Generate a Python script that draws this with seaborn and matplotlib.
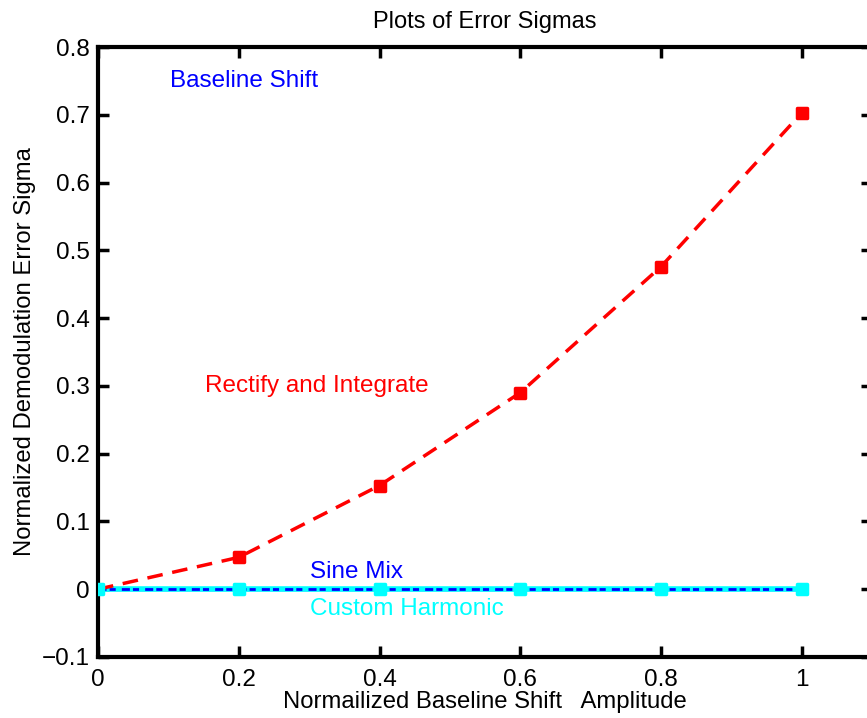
import pandas as pd
import matplotlib
matplotlib.use('Agg')
import matplotlib.pyplot as plt
import seaborn as sns

# values
amplitude = [0.0, 0.2, 0.4, 0.6, 0.8, 1.0]
rectify_sigma = [0.0, 0.047, 0.153, 0.290, 0.476, 0.703]
baseline_sigma = [0.0, 0.0, 0.0, 0.0, 0.0, 0.0]
sine_mix_sigma = [0.0, 0.0, 0.0, 0.0, 0.0, 0.0]
harmonic_sigma = [0.0, 0.0, 0.0, 0.0, 0.0, 0.0]

x_ticks = [0, 0.2, 0.4, 0.6, 0.8, 1]
x_tick_labels = ['0', '0.2', '0.4', '0.6', '0.8', '1']
y_ticks = [-0.1, 0, 0.1, 0.2, 0.3, 0.4, 0.5, 0.6, 0.7, 0.8]
y_tick_labels = ['\u22120.1', '0', '0.1', '0.2', '0.3', '0.4', '0.5', '0.6', '0.7', '0.8']

df = pd.DataFrame({
    'amp': amplitude,
    'rectify': rectify_sigma,
    'baseline': baseline_sigma,
    'sine': sine_mix_sigma,
    'harmonic': harmonic_sigma,
})

sns.set_style('white')
plt.rcParams['font.family'] = ['Liberation Sans', 'DejaVu Sans']
plt.rcParams['text.color'] = 'black'
plt.rcParams['axes.labelcolor'] = 'black'

fig = plt.figure(figsize=(8.67, 7.18), dpi=100)
ax = fig.add_axes([0.113, 0.085, 0.893, 0.8495])

# series sitting on zero
sns.lineplot(data=df, x='amp', y='baseline', ax=ax, color='blue', linewidth=2.5, zorder=1)
sns.lineplot(data=df, x='amp', y='harmonic', ax=ax, color='cyan', linewidth=4, zorder=3)
sns.lineplot(data=df, x='amp', y='sine', ax=ax, color='blue', linewidth=2,
             linestyle=(0, (2.9, 1.1, 2.2, 2.2)), zorder=4)
for mk in ['s', 'x']:
    sns.scatterplot(data=df, x='amp', y='harmonic', ax=ax, color='cyan', marker=mk, s=60,
                    linewidth=2.5, edgecolor='cyan', zorder=5)

# rectify and integrate
sns.lineplot(data=df, x='amp', y='rectify', ax=ax, color='red', linewidth=2.5,
             linestyle=(0, (4.5, 2.8)), zorder=4)
for mk in ['s', 'x']:
    sns.scatterplot(data=df.iloc[1:], x='amp', y='rectify', ax=ax, color='red', marker=mk, s=45,
                    linewidth=2.5, edgecolor='red', zorder=6)

ax.text(0.102, 0.75, 'Baseline Shift', color='blue', fontsize=17.5, va='center')
ax.text(0.152, 0.30, 'Rectify and Integrate', color='red', fontsize=17.5, va='center')
ax.text(0.301, 0.025, 'Sine Mix', color='blue', fontsize=17.5, va='center')
ax.text(0.301, -0.029, 'Custom Harmonic', color='cyan', fontsize=17.5, va='center')

ax.set_xlim(0, 1.1)
ax.set_ylim(-0.1, 0.8)
ax.set_xticks(x_ticks)
ax.set_xticklabels(x_tick_labels)
ax.set_yticks(y_ticks)
ax.set_yticklabels(y_tick_labels)
ax.tick_params(direction='in', length=8, width=2.5, labelsize=17.5, top=True, right=True,
               bottom=True, left=True, pad=6, colors='black')
ax.tick_params(axis='x', pad=9)
for sp in ax.spines.values():
    sp.set_linewidth(3)
    sp.set_color('black')

ax.set_xlabel('Normailized Baseline Shift   Amplitude', fontsize=17.2, labelpad=0)
ax.set_ylabel('Normalized Demodulation Error Sigma', fontsize=17.2, labelpad=4)
ax.set_title('Plots of Error Sigmas', fontsize=17, pad=14, color='black')

fig.savefig('out.png', dpi=100)
